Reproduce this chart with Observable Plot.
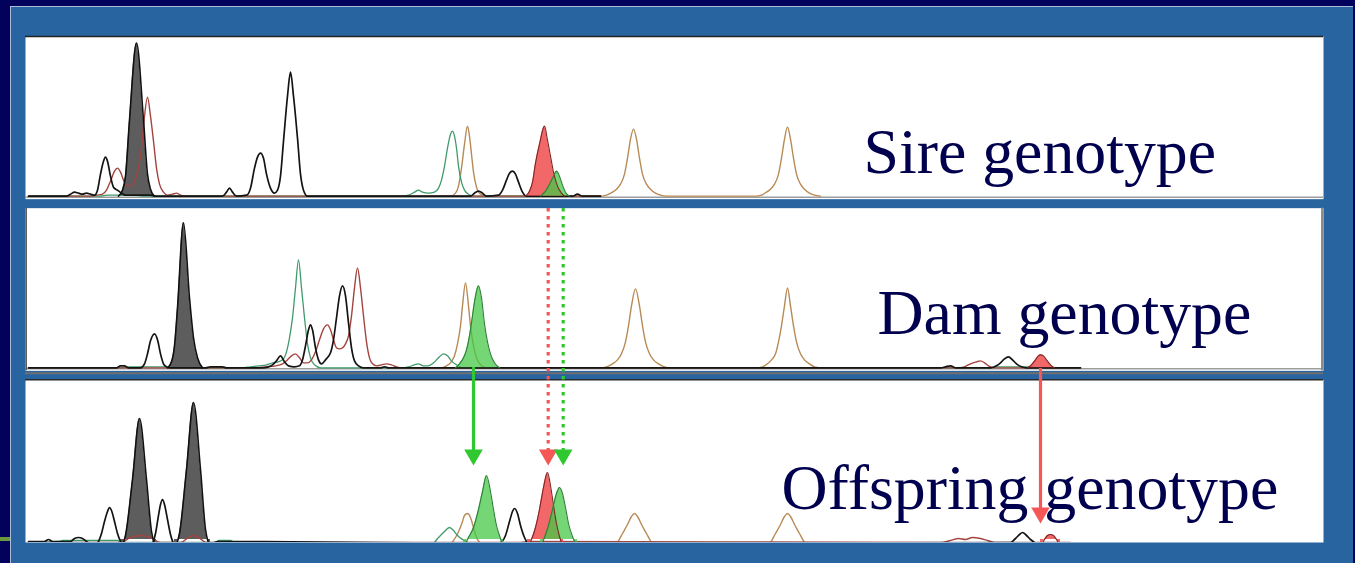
<!DOCTYPE html>
<html><head><meta charset="utf-8">
<script src="https://cdn.jsdelivr.net/npm/d3@7"></script>
<script src="https://cdn.jsdelivr.net/npm/@observablehq/plot@0.6"></script>
<style>
html,body{margin:0;padding:0;}
body{width:1355px;height:563px;overflow:hidden;background:#02025c;position:relative;}
#frame{position:absolute;left:10px;top:6px;width:1343px;height:557px;background:#2864a0;border-top:1px solid #aebbd6;border-left:1px solid #aebbd6;box-sizing:border-box;}
#chart{position:absolute;left:0;top:0;}
#mark{position:absolute;left:0;top:537px;width:10px;height:4px;background:#6a9a3c;}
</style></head><body>
<div id="frame"></div><div id="mark"></div><div id="chart"></div>
<script>
// Panels (facets) and their labels
const panels = ["Sire", "Dam", "Offspring"];
const labels = ["Sire genotype", "Dam genotype", "Offspring genotype"];

// ---- Sire traces: [scan position, intensity]
const sireBlack = [[28,0],[66,0],[70,2],[74,4],[78,3],[82,2],[86,3],[90,2],[94,1],[97,6],[100,22],[103,35],[105,39],[107,35],[110,20],[113,9],[117,6],[121,3],[125,1],[150,1],[155,0],[222,0],[226,4],[229,8],[232,4],[236,0],[246,1],[250,8],[254,28],[257,39],[260,43],[263,38],[266,22],[270,8],[274,3],[277,6],[280,20],[283,55],[287,100],[290,124],[293,100],[297,58],[300,22],[303,6],[307,0],[312,0],[470,0],[474,3],[478,5],[482,3],[486,0],[498,1],[502,6],[506,16],[509,23],[512,25],[515,22],[518,14],[522,4],[526,0],[572,0],[577,2],[582,0],[600,0]];
const sireRed = [[28,0],[90,0],[96,1],[102,2],[106,6],[110,15],[114,25],[117,28],[120,24],[123,16],[126,11],[130,10],[134,15],[138,28],[141,48],[144,80],[147,99],[150,80],[153,55],[156,28],[159,12],[163,4],[167,1],[172,2],[176,3],[180,1],[185,0],[600,0]];
const sireGreen = [[28,0],[100,0],[106,1],[130,1],[145,0],[400,0],[408,1],[414,4],[418,6],[422,4],[428,3],[434,4],[438,8],[441,16],[444,30],[447,48],[450,62],[452,65],[454,60],[456,48],[458,30],[461,14],[464,6],[468,2],[474,0],[530,0]];
const sireTan = [[430,0],[450,0],[455,3],[458,10],[461,28],[464,52],[467,70],[469,60],[471,42],[473,24],[476,9],[480,2],[486,0],[600,0],[606,1],[612,4],[616,7],[620,12],[624,22],[627,38],[630,57],[633,67],[636,57],[639,38],[642,22],[646,12],[650,7],[655,3],[660,1],[666,0],[755,0],[761,1],[766,4],[770,7],[774,12],[778,22],[781,38],[784,57],[787,69],[790,57],[793,38],[796,22],[800,12],[804,7],[809,3],[814,1],[820,0]];
const sireGrayPeak = [[118,0],[122,6],[125,20],[129,76],[136,153],[143,76],[147,22],[150,7],[154,0]];
const sireRedPeak = [[525,0],[529,5],[532,14],[535,33],[539,52],[544,70],[547,56],[550,40],[553,24],[557,10],[561,3],[564,0]];
const sireGreenPeak = [[540,0],[545,5],[549,12],[553,20],[556,25],[559,20],[562,11],[565,4],[569,0]];

// ---- Dam traces
const damBlack = [[28,0],[116,0],[120,2],[124,2],[128,0],[140,0],[144,4],[147,14],[150,27],[154,34],[157,28],[160,14],[163,4],[166,1],[169,0],[205,0],[210,1],[222,1],[226,0],[262,0],[268,1],[272,3],[276,7],[280,12],[284,6],[288,2],[294,1],[299,2],[302,8],[305,22],[308,38],[310,43],[312,38],[315,20],[318,8],[321,4],[325,8],[330,15],[333,28],[336,50],[339,72],[342,82],[345,72],[348,45],[351,20],[354,7],[358,2],[363,0],[380,0],[384,1],[388,0],[940,0],[945,1],[950,2],[955,0],[990,0],[996,2],[1000,5],[1004,9],[1008,11],[1012,8],[1016,4],[1021,1],[1026,0],[1080,0]];
const damRed = [[28,0],[255,0],[265,1],[275,2],[282,4],[287,8],[291,12],[295,14],[299,10],[303,5],[307,5],[311,8],[315,16],[319,28],[323,39],[327,43],[330,38],[333,28],[336,20],[339,19],[342,20],[345,24],[348,32],[351,52],[354,80],[357,100],[360,80],[363,52],[366,26],[369,10],[372,4],[376,2],[381,3],[386,4],[391,3],[396,1],[402,0],[960,0],[964,1],[970,4],[976,6],[980,7],[984,5],[988,2],[994,0],[1080,0]];
const damGreen = [[28,0],[120,0],[128,1],[166,1],[175,0],[240,0],[250,1],[258,2],[266,3],[272,5],[278,6],[283,9],[286,16],[289,30],[292,50],[295,80],[298,108],[301,80],[304,50],[307,24],[310,10],[314,3],[320,0],[400,0],[408,1],[414,3],[418,4],[423,2],[428,2],[433,5],[438,10],[443,14],[447,12],[451,7],[456,3],[462,0],[990,0],[996,1],[1030,1],[1036,0],[1080,0]];
const damTan = [[420,0],[440,0],[446,2],[450,5],[454,12],[457,24],[460,42],[462,62],[465,85],[468,62],[470,42],[473,22],[476,10],[480,3],[486,0],[600,0],[606,1],[612,4],[617,8],[621,14],[625,26],[628,42],[631,62],[635,79],[639,62],[642,42],[645,26],[649,14],[653,8],[658,4],[664,1],[670,0],[756,0],[762,1],[767,4],[771,8],[775,14],[778,26],[781,42],[784,62],[787,80],[790,62],[793,42],[796,26],[800,14],[804,8],[809,4],[814,1],[820,0]];
const damGrayPeak = [[167,0],[171,6],[174,22],[177,60],[183,145],[189,70],[193,30],[197,10],[202,0]];
const damGreenPeak = [[455,0],[459,4],[463,10],[466,18],[469,32],[471,45],[474,66],[478,82],[481,70],[484,44],[487,26],[490,14],[494,5],[499,0]];
const damRedPeak = [[1027,0],[1031,3],[1035,8],[1038,12],[1040,13],[1043,12],[1046,8],[1050,3],[1054,0]];

// ---- Offspring traces
const offBlack = [[28,-2],[44,-2],[48,0],[52,-2],[70,-2],[74,1],[78,2],[82,1],[86,-2],[94,-6],[98,-2],[101,6],[104,18],[107,28],[109,32],[111,29],[114,18],[117,6],[120,-2],[123,-7],[150,-7],[152,-4],[155,6],[158,24],[160,35],[162,40],[164,35],[167,20],[170,5],[173,-4],[176,-8],[211,-8],[214,-3],[218,-2],[262,-2],[490,-4],[500,-3],[505,4],[509,18],[512,28],[514,31],[517,26],[520,14],[524,2],[528,-4],[1010,-3],[1015,1],[1019,5],[1022,7],[1026,4],[1030,0],[1034,-3]];
const offRed = [[28,-3],[120,-3],[130,2],[140,4],[150,2],[160,-3],[180,-3],[188,2],[193,4],[198,2],[206,-3],[520,-3],[528,-2],[940,-3],[950,-1],[958,1],[965,0],[972,2],[980,1],[987,-1],[995,-3],[1070,-3]];
const offGreen = [[28,-3],[58,-2],[62,-1],[117,-1],[121,-3],[215,-3],[218,-1],[230,-1],[234,-3],[430,-6],[438,2],[444,8],[449,12],[453,9],[457,4],[462,0],[470,-4]];
const offTan = [[430,-8],[450,-4],[455,2],[459,10],[462,18],[464,24],[467,26],[470,22],[473,12],[476,2],[480,-4],[486,-8],[612,-8],[617,-3],[622,6],[627,15],[631,23],[634,26],[637,23],[641,15],[646,6],[651,-3],[656,-8],[765,-8],[770,-3],[775,6],[780,15],[784,23],[787,26],[790,23],[794,15],[799,6],[804,-3],[809,-8]];
const offGrayPeak1 = [[120,-8],[125,4],[132,60],[139,121],[146,60],[151,8],[156,-8]];
const offGrayPeak2 = [[174,-8],[179,6],[186,70],[193,137],[200,70],[205,10],[210,-8]];
const offGreenPeak1 = [[463,-8],[468,2],[473,12],[478,30],[482,48],[486,64],[490,48],[493,30],[496,14],[499,4],[503,-8]];
const offRedPeak = [[527,-8],[531,0],[535,12],[539,30],[543,52],[547,67],[550,54],[553,34],[556,16],[559,3],[563,-8]];
const offGreenPeak2 = [[540,-8],[544,2],[548,14],[552,30],[556,46],[559,52],[562,46],[565,32],[568,16],[572,3],[577,-8]];
const offRedPeak2 = [[1040,-8],[1044,0],[1047,4],[1050,5],[1053,4],[1056,0],[1060,-8]];

// ---- Allele inheritance arrows (offspring panel units)
const arrowPanel = ["Offspring", "Offspring", "Offspring", "Offspring"];
const arrowX = [473, 547.7, 562.7, 1040];
const arrowFrom = [172, 331, 331, 171];
const arrowTo = [74, 74, 74, 16];
const arrowDye = ["green", "red", "green", "red"];
const arrowDotted = [false, true, true, false];

// ---- styles
const lineColor = {black: "#141414", red: "#a3453f", green: "#3f9b6b", tan: "#b88a55"};
const lineWidth = {black: 1.7, red: 1.4, green: 1.3, tan: 1.4};
const fillColor = {black: "#5d5d5d", red: "#f04a4a", green: "#46c846"};
const fillAlpha = {black: 1, red: 0.84, green: 0.75};
const edgeColor = {black: "#111111", red: "#7e2626", green: "#2e7d3a"};
const arrowColor = {red: "#f55656", green: "#30c830"};

const lines = [
  ["Sire","tan",sireTan],["Sire","green",sireGreen],["Sire","red",sireRed],["Sire","black",sireBlack],
  ["Dam","tan",damTan],["Dam","green",damGreen],["Dam","red",damRed],["Dam","black",damBlack],
  ["Offspring","tan",offTan],["Offspring","green",offGreen],["Offspring","red",offRed],["Offspring","black",offBlack]
];
const grayFills = [["Sire","black",sireGrayPeak],["Dam","black",damGrayPeak],["Offspring","black",offGrayPeak1],["Offspring","black",offGrayPeak2]];
const colorFills = [
  ["Sire","red",sireRedPeak],["Sire","green",sireGreenPeak],
  ["Dam","green",damGreenPeak],["Dam","red",damRedPeak],
  ["Offspring","green",offGreenPeak1],["Offspring","red",offRedPeak],["Offspring","green",offGreenPeak2],["Offspring","red",offRedPeak2]
];
const rows = (list, tag) => list.flatMap(([panel, dye, pts], i) => pts.map(([x, y]) => ({panel, dye, id: tag + i, x, y})));
const lineRows = rows(lines, "l");
const grayRows = rows(grayFills, "g");
const redRows = rows(colorFills, "c").filter(d => d.dye === "red");
const greenRows = rows(colorFills, "c").filter(d => d.dye === "green");
const arrows = arrowX.map((x, i) => ({panel: arrowPanel[i], x, from: arrowFrom[i], to: arrowTo[i], dye: arrowDye[i], dotted: arrowDotted[i]}));

const yMin = -3, yMax = 159.667;
const headR = 6.9, headTip = 2 * headR * Math.sqrt(Math.PI / (3 * Math.sqrt(3)));
const textStyle = {frameAnchor: "bottom-left", textAnchor: "start", lineAnchor: "bottom", fontSize: 63.8, fontFamily: "Liberation Serif, Times New Roman, serif", fill: "#00004e"};
const traceLines = (data, dye) => [
  Plot.lineY(data.filter(d => d.dye === dye), {x: "x", y: "y", z: "id", fy: "panel", stroke: lineColor[dye], strokeWidth: lineWidth[dye], curve: "monotone-x", clip: true})
];
const peakArea = (data, dye) => [
  Plot.areaY(data, {x: "x", y: "y", z: "id", fy: "panel", fill: fillColor[dye], fillOpacity: fillAlpha[dye], curve: "monotone-x", clip: true})
];
const peakEdge = (data, dye) => [
  Plot.lineY(data, {x: "x", y: "y", z: "id", fy: "panel", stroke: edgeColor[dye], strokeWidth: dye === "black" ? 1.6 : 1.1, curve: "monotone-x", clip: true})
];

const chart = Plot.plot({
  width: 1355, height: 563,
  marginTop: 36, marginBottom: 21, marginLeft: 25, marginRight: 32,
  style: {background: "transparent", overflow: "visible"},
  x: {domain: [25, 1323], axis: null},
  y: {domain: [yMin, yMax], axis: null},
  fy: {domain: panels, paddingInner: 0.05243, paddingOuter: 0, round: false, axis: null},
  marks: [
    Plot.frame({fill: "white", stroke: "none"}),
    Plot.ruleY(["Sire", "Dam"], {fy: d => d, y: -1, stroke: "#9c9c9c", strokeWidth: 1.5}),
    ...peakArea(grayRows, "black"),
    ...traceLines(lineRows, "tan"),
    ...traceLines(lineRows, "green"),
    ...traceLines(lineRows, "red"),
    ...traceLines(lineRows, "black"),
    ...peakEdge(grayRows, "black"),
    ...peakArea(redRows, "red"),
    ...peakArea(greenRows, "green"),
    ...peakEdge(redRows, "red"),
    ...peakEdge(greenRows, "green"),
    // panel borders
    Plot.ruleY(["Sire"], {fy: d => d, y: yMax, stroke: "#222", strokeWidth: 1.3}),
    Plot.ruleY(["Dam"], {fy: d => d, y: yMin - 2.5, stroke: "#6f6f6f", strokeWidth: 2}),
    Plot.ruleX(["Dam"], {fy: d => d, x: 25.7, stroke: "#555", strokeWidth: 1.5}),
    Plot.ruleX(["Dam"], {fy: d => d, x: 1321.8, stroke: "#8a8a8a", strokeWidth: 2.5}),
    Plot.ruleY(["Offspring"], {fy: d => d, y: yMax, stroke: "#2a2a2a", strokeWidth: 1.5}),
    // labels
    Plot.text([labels[0]], {...textStyle, fy: [panels[0]], text: d => d, dx: 838, dy: -25.7}),
    Plot.text([labels[1]], {...textStyle, fy: [panels[1]], text: d => d, dx: 852, dy: -37}),
    Plot.text([labels[2]], {...textStyle, fy: [panels[2]], text: d => d, dx: 756, dy: -33.7}),
    // arrows
    Plot.ruleX(arrows.filter(d => !d.dotted), {x: "x", y1: "from", y2: d => d.to + 9, fy: "panel", stroke: d => arrowColor[d.dye], strokeWidth: 3.2}),
    Plot.ruleX(arrows.filter(d => d.dotted), {x: "x", y1: "from", y2: d => d.to + 9, fy: "panel", stroke: d => arrowColor[d.dye], strokeWidth: 3.2, strokeDasharray: "3.4,4.6"}),
    Plot.dot(arrows, {x: "x", y: "to", fy: "panel", symbol: "triangle", r: headR, rotate: 180, dy: -headTip, fill: d => arrowColor[d.dye], stroke: "none"})
  ],
  color: {type: "identity"}
});
document.getElementById("chart").appendChild(chart);
</script>
</body></html>
